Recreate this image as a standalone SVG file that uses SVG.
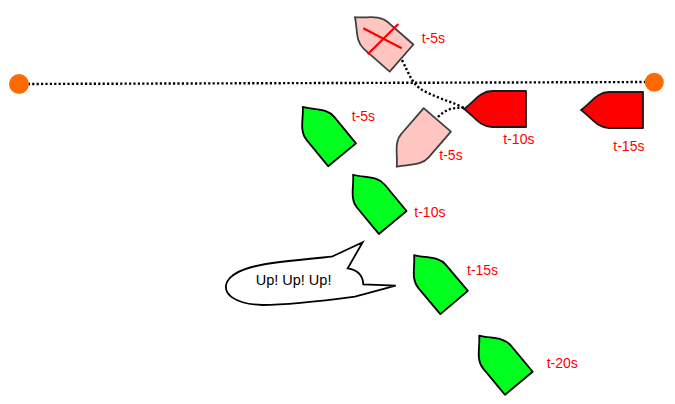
<svg xmlns="http://www.w3.org/2000/svg" width="675" height="404" viewBox="0 0 675 404">
<style>
.lbl{font-family:"Liberation Sans",Arial,sans-serif;font-size:14px;fill:#ff0000}
.green{fill:#00ff1e;stroke:#000;stroke-width:1.8;stroke-linejoin:round}
.red{fill:#ff0000;stroke:#1a1a1a;stroke-width:1.8;stroke-linejoin:round}
.pink{fill:#ffc5c0;stroke:#404040;stroke-width:1.8;stroke-linejoin:round}
.mark{fill:#ff6a00}
.dots{fill:none;stroke:#000;stroke-width:2.4;stroke-dasharray:2.2 2.2}
</style>
<defs>
<path id="boat" d="M -31,-18 L 3,-18 C 15,-18 21,-7 31,0 C 21,7 15,18 3,18 L -31,18 Z"/>
</defs>
<rect width="675" height="404" fill="#fff"/>
<g id="connectors">
<path class="dots" d="M 19,84 L 654,82"/>
<path class="dots" d="M 402,60 C 410,76 413,86 426,92 C 440,99 455,103 464,108"/>
<path class="dots" d="M 438,117 C 445,110 452,107 464,108"/>
</g>
<g id="mark-left"><circle class="mark" cx="19" cy="84" r="10"/></g>
<g id="mark-right"><circle class="mark" cx="654.3" cy="82.3" r="9.5"/></g>
<g id="pink-top">
<use href="#boat" class="pink" transform="translate(378.2,37.6) rotate(221.2)"/>
<path d="M 363.3,28.3 L 401.7,48.3 M 398.3,24 L 367.7,54.3" stroke="#ff0000" stroke-width="2.2" fill="none"/>
<text class="lbl" x="421.7" y="43.3">t-5s</text>
</g>
<g id="pink-low">
<use href="#boat" class="pink" transform="translate(417,143.3) rotate(130.9)"/>
<text class="lbl" x="439.3" y="160">t-5s</text>
</g>
<g id="red-10">
<use href="#boat" class="red" transform="translate(495,109) rotate(180)"/>
<text class="lbl" x="503.3" y="144">t-10s</text>
</g>
<g id="red-15">
<use href="#boat" class="red" transform="translate(612,110) rotate(180)"/>
<text class="lbl" x="613.3" y="150.7">t-15s</text>
</g>
<g id="green-5">
<use href="#boat" class="green" transform="translate(322.4,130.8) rotate(230.7)"/>
<text class="lbl" x="351.7" y="120.7">t-5s</text>
</g>
<g id="green-10">
<use href="#boat" class="green" transform="translate(372.9,198.6) rotate(230.3)"/>
<text class="lbl" x="414.3" y="217.3">t-10s</text>
</g>
<g id="green-15">
<use href="#boat" class="green" transform="translate(434.1,278.8) rotate(229.8)"/>
<text class="lbl" x="467" y="275">t-15s</text>
</g>
<g id="green-20">
<use href="#boat" class="green" transform="translate(499,359.4) rotate(230.3)"/>
<text class="lbl" x="546.7" y="368.3">t-20s</text>
</g>
<g id="callout">
<path d="M 331.7,256.7 L 362.7,242.3 L 347.7,268.3 C 358,270 363,276 363.3,284.3 L 395.7,285.7 L 355,296.7 C 330,300 290,305 262,305 C 235,304 222,294 227,282 C 233,270 255,265 280,262 C 300,259.5 318,258 331.7,256.7 Z" fill="#fff" stroke="#000" stroke-width="1.8" stroke-linejoin="miter"/>
<text x="255.7" y="285" font-family="'Liberation Sans',Arial,sans-serif" font-size="14.5" fill="#000">Up! Up! Up!</text>
</g>
</svg>
